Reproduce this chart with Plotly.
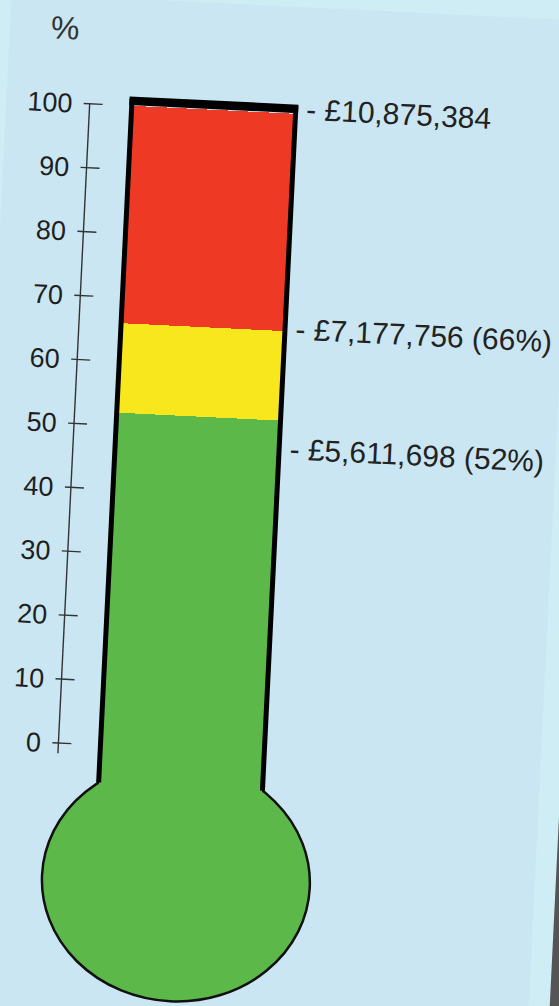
import plotly.graph_objects as go

# ---------------- data ----------------
tick_values = [0, 10, 20, 30, 40, 50, 60, 70, 80, 90, 100]
tick_labels = ["0", "10", "20", "30", "40", "50", "60", "70", "80", "90", "100"]

band_names = ["£5,611,698", "£7,177,756", "£10,875,384"]
band_upper = [52, 66, 100]          # % of target reached (cumulative levels)
band_colors = ["#5CB848", "#F8E71C", "#EE3A24"]

amount_labels = ["- £10,875,384", "- £7,177,756 (66%)", "- £5,611,698 (52%)"]

axis_title = "%"

# ---------------- layout geometry (pixels of the unrotated sheet) ----------------
PX_PER_PCT = 6.4
ZERO_PX = 753.5
W, H = 650, 1100
OFF = 45                      # sheet offset so the rotated sheet fills the window
ANGLE = 2.8                   # the photographed sheet is slightly tilted


def py(px):
    """sheet pixel row -> % value on the y scale"""
    return (ZERO_PX - px) / PX_PER_PCT


TUBE_L, TUBE_R = 112.5, 276.5          # centre of the tube's side strokes
TUBE_C = (TUBE_L + TUBE_R) / 2
BULB_CX, BULB_CY, BULB_RX, BULB_RY = 194.5, 886, 134, 120
JUNCTION_PX = 791
AXIS_X = 70.4
LABEL_X = 285
LABEL_Y = [100.8, 66.4, 47.6]

fig = go.Figure()

# colour bands inside the tube, drawn as bars on the % scale
lower = [py(825)] + band_upper[:-1]
for name, lo, hi, col in zip(band_names, lower, band_upper, band_colors):
    fig.add_trace(go.Bar(
        x=[TUBE_C], y=[hi - lo], base=[lo], width=[TUBE_R - TUBE_L],
        marker=dict(color=col, line=dict(width=0)), name=name,
        hoverinfo="skip", showlegend=False))

# scale line
fig.add_trace(go.Scatter(
    x=[AXIS_X, AXIS_X], y=[-1.6, tick_values[-1]], mode="lines",
    line=dict(color="#333333", width=1.4), hoverinfo="skip", showlegend=False))

# tick marks crossing the scale line
tx, ty = [], []
for t in tick_values:
    tx += [AXIS_X - 6, AXIS_X + 13, None]
    ty += [t, t, None]
fig.add_trace(go.Scatter(
    x=tx, y=ty, mode="lines", line=dict(color="#333333", width=1.4),
    hoverinfo="skip", showlegend=False))

shapes = []
# photographed sheet: light frame, panel, dark table edge
shapes.append(dict(type="rect", xref="x", yref="y", x0=-13, x1=553,
                   y0=py(2000), y1=py(6.5), fillcolor="#CAE6F2",
                   line=dict(width=0), layer="below"))
shapes.append(dict(type="rect", xref="x", yref="y", x0=574, x1=700,
                   y0=py(2000), y1=py(-200), fillcolor="#555555",
                   line=dict(width=0), layer="below"))
# bulb
shapes.append(dict(type="circle", xref="x", yref="y",
                   x0=BULB_CX - BULB_RX, x1=BULB_CX + BULB_RX,
                   y0=py(BULB_CY + BULB_RY), y1=py(BULB_CY - BULB_RY),
                   fillcolor=band_colors[0], line=dict(color="#111111", width=2.5),
                   layer="below"))
# tube outline
top_y = py(108.5)
shapes.append(dict(type="path", xref="x", yref="y",
                   path=f"M {TUBE_L},{py(JUNCTION_PX)} L {TUBE_L},{top_y} "
                        f"L {TUBE_R},{top_y} L {TUBE_R},{py(JUNCTION_PX)}",
                   line=dict(color="#000000", width=5), layer="above"))
shapes.append(dict(type="line", xref="x", yref="y", x0=TUBE_L - 2.5, x1=TUBE_R + 2.5,
                   y0=top_y, y1=top_y, line=dict(color="#000000", width=8.5),
                   layer="above"))

annotations = []
tick_font = dict(family="Liberation Sans, Arial, sans-serif", size=27, color="#1f1f1f")
for t, lab in zip(tick_values, tick_labels):
    annotations.append(dict(x=AXIS_X - 15, y=t, xref="x", yref="y", text=lab,
                            showarrow=False, xanchor="right", yanchor="middle",
                            font=tick_font))
annotations.append(dict(x=42, y=py(38.5), xref="x", yref="y", text=axis_title,
                        showarrow=False, xanchor="center", yanchor="middle",
                        font=dict(family="Liberation Sans, Arial, sans-serif",
                                  size=32, color="#333333")))
for lab, yv in zip(amount_labels, LABEL_Y):
    annotations.append(dict(x=LABEL_X, y=yv, xref="x", yref="y", text=lab,
                            showarrow=False, xanchor="left", yanchor="middle",
                            font=dict(family="Liberation Sans, Arial, sans-serif",
                                      size=30, color="#222222")))

fig.update_layout(
    width=W, height=H, margin=dict(l=0, r=0, t=0, b=0, pad=0),
    paper_bgcolor="#CFEDF5", plot_bgcolor="#CFEDF5",
    barmode="overlay", bargap=0, showlegend=False,
    xaxis=dict(range=[-OFF, W - OFF], visible=False, fixedrange=True),
    yaxis=dict(range=[py(H - OFF), py(-OFF)], visible=False, fixedrange=True),
    shapes=shapes, annotations=annotations,
)

post = """
var gd = document.getElementById('{plot_id}');
document.documentElement.style.overflow = 'hidden';
document.body.style.margin = '0';
document.body.style.overflow = 'hidden';
document.body.style.background = '#CAE6F2';
gd.style.position = 'absolute';
gd.style.left = '-%dpx';
gd.style.top = '-%dpx';
gd.style.transformOrigin = '%.1fpx %.1fpx';
gd.style.transform = 'rotate(%.2fdeg)';
""" % (OFF, OFF, 279.5 + OFF, 503 + OFF, ANGLE)

fig.write_html("out.html", config={"displayModeBar": False, "staticPlot": True},
               post_script=post)
